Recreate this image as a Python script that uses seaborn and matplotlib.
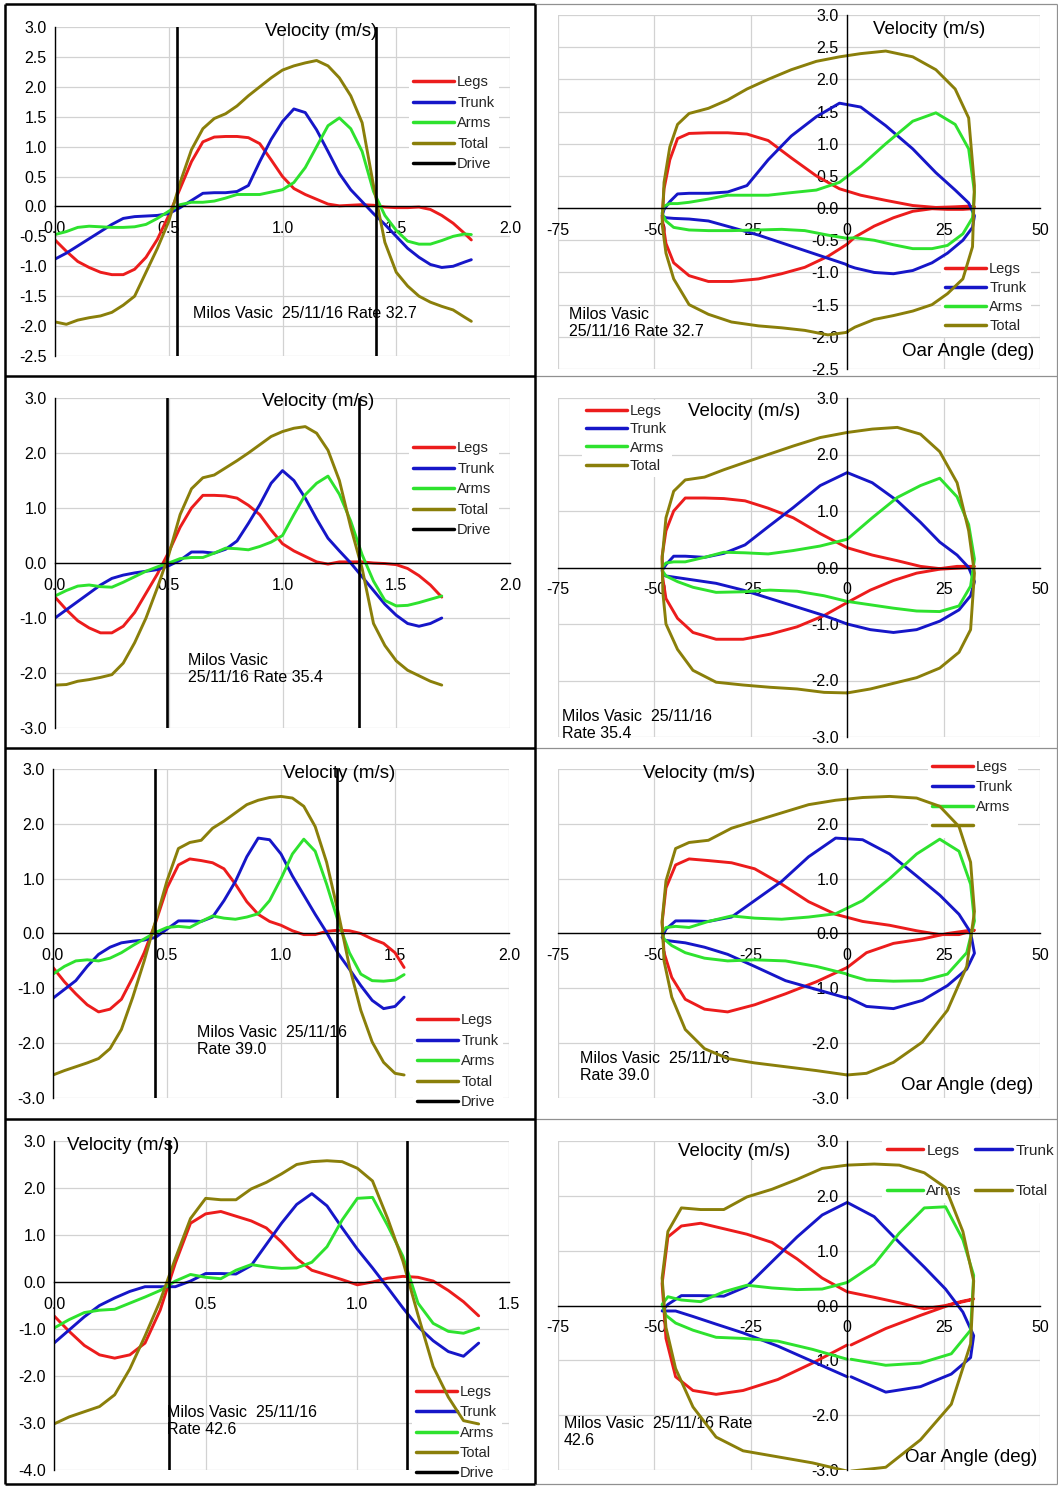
import numpy as np
import pandas as pd
import matplotlib
matplotlib.use("Agg")
import matplotlib.pyplot as plt
import seaborn as sns
from matplotlib.lines import Line2D
from matplotlib.ticker import MultipleLocator, FormatStrFormatter

# ---------------- data ----------------
parts = ["Legs", "Trunk", "Arms", "Total"]

# Row 1 : rate 32.7
t_r1 = [0.00, 0.05, 0.10, 0.15, 0.20, 0.25, 0.30, 0.35, 0.40, 0.45, 0.50, 0.55, 0.60, 0.65, 0.70, 0.75, 0.80, 0.85, 0.90,
        0.95, 1.00, 1.05, 1.10, 1.15, 1.20, 1.25, 1.30, 1.35, 1.40, 1.45, 1.50, 1.55, 1.60, 1.65, 1.70, 1.75, 1.80, 1.83]
angle_r1 = [0, -5, -11, -17, -23, -30, -36, -41, -45, -47, -48, -47.5, -46, -44, -41, -36, -31, -26, -20.5,
            -14.5, -8, -2, 3.5, 10, 17, 23, 28, 31.5, 33, 32.5, 30, 26, 22, 17, 12, 7, 2, 0]
legs_r1 = [-0.56, -0.75, -0.92, -1.02, -1.10, -1.14, -1.14, -1.05, -0.85, -0.55, -0.15, 0.30, 0.75, 1.08, 1.16, 1.17,
           1.17, 1.15, 1.05, 0.78, 0.50, 0.30, 0.20, 0.12, 0.04, 0.01, 0.02, 0.03, 0.02, -0.01, -0.02, -0.02, -0.01,
           -0.05, -0.15, -0.28, -0.45, -0.56]
trunk_r1 = [-0.88, -0.78, -0.66, -0.54, -0.42, -0.30, -0.20, -0.17, -0.16, -0.15, -0.12, -0.02, 0.10, 0.22, 0.23, 0.23,
            0.25, 0.35, 0.75, 1.12, 1.42, 1.63, 1.57, 1.28, 0.92, 0.55, 0.28, 0.08, -0.12, -0.30, -0.50, -0.70, -0.85,
            -0.97, -1.02, -1.00, -0.93, -0.89]
arms_r1 = [-0.47, -0.42, -0.35, -0.33, -0.34, -0.35, -0.35, -0.34, -0.30, -0.20, -0.08, 0.03, 0.07, 0.07, 0.09, 0.14,
           0.20, 0.20, 0.20, 0.24, 0.28, 0.40, 0.65, 1.00, 1.35, 1.48, 1.30, 0.92, 0.25, -0.15, -0.40, -0.58, -0.63,
           -0.63, -0.57, -0.50, -0.46, -0.47]
total_r1 = [-1.93, -1.97, -1.90, -1.86, -1.83, -1.77, -1.65, -1.50, -1.10, -0.70, -0.25, 0.40, 0.95, 1.30, 1.47, 1.55,
            1.68, 1.85, 2.00, 2.15, 2.28, 2.35, 2.40, 2.44, 2.35, 2.15, 1.85, 1.40, 0.35, -0.60, -1.10, -1.33, -1.50,
            -1.60, -1.67, -1.73, -1.85, -1.92]

# Row 2 : rate 35.4
t_r2 = [0.00, 0.05, 0.10, 0.15, 0.20, 0.25, 0.30, 0.35, 0.40, 0.45, 0.50, 0.55, 0.60, 0.65, 0.70, 0.75, 0.80, 0.85,
        0.90, 0.95, 1.00, 1.05, 1.10, 1.15, 1.20, 1.25, 1.30, 1.35, 1.40, 1.45, 1.50, 1.55, 1.60, 1.65, 1.70]
angle_r2 = [0, -6, -13, -20, -27, -34, -40, -44, -47, -47.8, -48, -47, -45, -42, -37, -32, -26.5, -20.5,
            -14, -7, 0, 6.5, 13, 19, 24, 28.5, 31.5, 33, 32, 29, 24, 18, 12, 6, 0]
legs_r2 = [-0.62, -0.85, -1.05, -1.18, -1.27, -1.27, -1.15, -0.90, -0.55, -0.20, 0.20, 0.65, 1.00, 1.23, 1.23, 1.22,
           1.18, 1.05, 0.88, 0.60, 0.35, 0.22, 0.12, 0.02, -0.02, 0.02, 0.02, 0.02, 0.00, -0.01, -0.03, -0.10, -0.23,
           -0.40, -0.62]
trunk_r2 = [-1.00, -0.85, -0.70, -0.55, -0.40, -0.28, -0.22, -0.18, -0.15, -0.12, -0.05, 0.05, 0.20, 0.20, 0.18, 0.25,
            0.40, 0.72, 1.06, 1.45, 1.68, 1.50, 1.18, 0.80, 0.45, 0.22, 0.00, -0.25, -0.50, -0.75, -0.95, -1.10, -1.15,
            -1.10, -1.00]
arms_r2 = [-0.60, -0.50, -0.42, -0.40, -0.43, -0.44, -0.35, -0.25, -0.15, -0.07, 0.00, 0.08, 0.10, 0.10, 0.18, 0.27,
           0.26, 0.24, 0.30, 0.38, 0.50, 0.88, 1.24, 1.45, 1.58, 1.25, 0.76, 0.15, -0.33, -0.68, -0.78, -0.77, -0.72,
           -0.66, -0.60]
total_r2 = [-2.22, -2.21, -2.15, -2.12, -2.08, -2.03, -1.82, -1.45, -1.00, -0.45, 0.15, 0.88, 1.35, 1.55, 1.60, 1.73,
            1.86, 2.00, 2.15, 2.30, 2.39, 2.45, 2.48, 2.36, 2.05, 1.50, 0.65, -0.10, -1.10, -1.50, -1.78, -1.95, -2.05,
            -2.15, -2.22]

# Row 3 : rate 39.0
t_r3 = [0.00, 0.05, 0.10, 0.15, 0.20, 0.25, 0.30, 0.35, 0.40, 0.45, 0.50, 0.55, 0.60, 0.65, 0.70, 0.75, 0.80, 0.85,
        0.90, 0.95, 1.00, 1.05, 1.10, 1.15, 1.20, 1.25, 1.30, 1.35, 1.40, 1.45, 1.50, 1.54]
angle_r3 = [0, -8, -16, -24, -31, -37, -42, -45.5, -47.5, -48, -47, -44.5, -41, -36, -30, -24, -17, -10,
            -3, 4, 11, 18, 24, 29, 32, 33, 31, 26, 19.5, 12, 5, 0]
legs_r3 = [-0.62, -0.88, -1.10, -1.30, -1.43, -1.38, -1.20, -0.80, -0.35, 0.20, 0.83, 1.25, 1.36, 1.33, 1.29, 1.18,
           0.90, 0.58, 0.35, 0.22, 0.15, 0.05, -0.02, -0.02, 0.04, 0.06, 0.05, 0.00, -0.10, -0.18, -0.35, -0.62]
trunk_r3 = [-1.18, -1.02, -0.86, -0.60, -0.38, -0.25, -0.17, -0.14, -0.12, -0.07, 0.08, 0.23, 0.23, 0.22, 0.30, 0.60,
            0.95, 1.40, 1.74, 1.71, 1.45, 1.05, 0.70, 0.35, 0.02, -0.36, -0.65, -0.95, -1.22, -1.37, -1.33, -1.16]
arms_r3 = [-0.74, -0.60, -0.50, -0.48, -0.50, -0.45, -0.35, -0.22, -0.10, 0.02, 0.11, 0.13, 0.11, 0.22, 0.32, 0.28,
           0.26, 0.30, 0.36, 0.60, 1.00, 1.45, 1.72, 1.50, 0.90, 0.23, -0.35, -0.74, -0.86, -0.87, -0.85, -0.75]
total_r3 = [-2.58, -2.50, -2.43, -2.36, -2.28, -2.10, -1.75, -1.16, -0.50, 0.23, 0.96, 1.55, 1.66, 1.70, 1.92, 2.05,
            2.20, 2.35, 2.43, 2.48, 2.50, 2.47, 2.32, 1.95, 1.30, 0.40, -0.60, -1.40, -1.98, -2.35, -2.55, -2.58]

# Row 4 : rate 42.6
t_r4 = [0.00, 0.05, 0.10, 0.15, 0.20, 0.25, 0.30, 0.35, 0.40, 0.45, 0.50, 0.55, 0.60, 0.65, 0.70, 0.75, 0.80, 0.85,
        0.90, 0.95, 1.00, 1.05, 1.10, 1.15, 1.20, 1.25, 1.30, 1.35, 1.40]
angle_r4 = [0, -9, -18, -27, -34, -40, -44.5, -47, -48, -46.5, -43, -38, -32, -26, -19.5, -13, -6.5, 0,
            7, 13.5, 20, 25.5, 30, 32.8, 32, 27, 19, 10, 1]
legs_r4 = [-0.72, -1.05, -1.35, -1.55, -1.62, -1.55, -1.30, -0.60, 0.40, 1.25, 1.45, 1.50, 1.40, 1.30, 1.15, 0.85,
           0.50, 0.25, 0.15, 0.05, -0.06, 0.00, 0.08, 0.12, 0.10, 0.02, -0.18, -0.42, -0.72]
trunk_r4 = [-1.30, -1.02, -0.74, -0.50, -0.34, -0.20, -0.10, -0.10, -0.10, 0.02, 0.18, 0.18, 0.17, 0.35, 0.80, 1.25,
            1.65, 1.88, 1.62, 1.15, 0.70, 0.30, -0.12, -0.55, -0.95, -1.25, -1.48, -1.58, -1.30]
arms_r4 = [-0.98, -0.80, -0.65, -0.60, -0.58, -0.45, -0.32, -0.18, 0.02, 0.16, 0.10, 0.07, 0.25, 0.37, 0.32, 0.29,
           0.30, 0.42, 0.75, 1.32, 1.78, 1.80, 1.20, 0.55, -0.45, -0.88, -1.05, -1.09, -0.98]
total_r4 = [-3.02, -2.87, -2.76, -2.65, -2.40, -1.85, -1.15, -0.40, 0.50, 1.35, 1.78, 1.75, 1.75, 1.98, 2.12, 2.30,
            2.50, 2.56, 2.58, 2.56, 2.42, 2.15, 1.35, 0.45, -0.70, -1.80, -2.45, -2.95, -3.02]

drive_start = [0.536, 0.492, 0.447, 0.379]
drive_end = [1.411, 1.336, 1.246, 1.164]
rates = ["32.7", "35.4", "39.0", "42.6"]

# ---------------- style ----------------
sns.set_style("white")
plt.rcParams["font.family"] = ["Liberation Sans", "DejaVu Sans"]

PALETTE = {"Legs": "#ec1c1c", "Trunk": "#1616c8", "Arms": "#2ee22e", "Total": "#8a7f0a"}
GRID = "#d2d2d2"
TICK_FS = 11.5

W, H = 1058, 1486
fig = plt.figure(figsize=(W / 100, H / 100), dpi=100)
fig.patch.set_facecolor("white")


def rect(x0, y0, x1, y1):
    return [x0 / W, 1 - y1 / H, (x1 - x0) / W, (y1 - y0) / H]


def fxy(x, y):
    return (x / W, 1 - y / H)


rows = [
    dict(t=t_r1, a=angle_r1, v=[legs_r1, trunk_r1, arms_r1, total_r1],
         L=dict(box=(55, 27, 510, 356), xlim=(0, 2), ylim=(-2.5, 3), ystep=0.5,
                title=(321, 31, "center"), note=(193, 314, "Milos Vasic  25/11/16 Rate 32.7"),
                leg=(409, 71), ls=0.44),
         R=dict(box=(558, 15, 1040, 369), ylim=(-2.5, 3), ystep=0.5,
                title=(873, 30, "left"), note=(569, 323, "Milos Vasic\n25/11/16 Rate 32.7"),
                oar=(1034, 351), leg=(941, 258), ls=0.33, ncol=1, labels=parts)),
    dict(t=t_r2, a=angle_r2, v=[legs_r2, trunk_r2, arms_r2, total_r2],
         L=dict(box=(55, 398, 510, 728), xlim=(0, 2), ylim=(-3, 3), ystep=1.0,
                title=(318, 402, "center"), note=(188, 669, "Milos Vasic\n25/11/16 Rate 35.4"),
                leg=(409, 437), ls=0.44),
         R=dict(box=(558, 398, 1040, 737), ylim=(-3, 3), ystep=1.0,
                title=(688, 412, "left"), note=(562, 725, "Milos Vasic  25/11/16\nRate 35.4"),
                oar=None, leg=(582, 400), ls=0.28, ncol=1, labels=parts)),
    dict(t=t_r3, a=angle_r3, v=[legs_r3, trunk_r3, arms_r3, total_r3],
         L=dict(box=(53, 769, 509, 1098), xlim=(0, 2), ylim=(-3, 3), ystep=1.0,
                title=(283, 774, "left"), note=(197, 1041, "Milos Vasic  25/11/16\nRate 39.0"),
                leg=(413, 1009), ls=0.44),
         R=dict(box=(558, 769, 1040, 1098), ylim=(-3, 3), ystep=1.0,
                title=(643, 773, "left"), note=(580, 1067, "Milos Vasic  25/11/16\nRate 39.0"),
                oar=(1033, 1085), leg=(928, 756), ls=0.39, ncol=1, labels=["Legs", "Trunk", "Arms", ""])),
    dict(t=t_r4, a=angle_r4, v=[legs_r4, trunk_r4, arms_r4, total_r4],
         L=dict(box=(54, 1141, 509, 1470), xlim=(0, 1.5), ylim=(-4, 3), ystep=1.0,
                title=(67, 1145, "left"), note=(167, 1421, "Milos Vasic  25/11/16\nRate 42.6"),
                leg=(412, 1381), ls=0.42),
         R=dict(box=(558, 1141, 1040, 1470), ylim=(-3, 3), ystep=1.0,
                title=(678, 1151, "left"), note=(564, 1432, "Milos Vasic  25/11/16 Rate\n42.6"),
                oar=(1037, 1457), leg=(882, 1139), ls=1.76, ncol=2, labels=parts)),
]


def add_text(ax, x, y, s, ha="left", size=13.5, ls=1.2):
    fx, fy = fxy(x, y)
    ax.text(fx, fy, s, transform=fig.transFigure, ha=ha, va="center", fontsize=size,
            linespacing=ls, color="black", zorder=1)


def style_common(ax):
    ax.set_facecolor("white")
    ax.set_axisbelow(True)
    ax.grid(True, which="major", color=GRID, lw=0.9)
    ax.grid(False, which="minor")
    ax.set_xlabel("")
    ax.set_ylabel("")
    for s in ["top", "right"]:
        ax.spines[s].set_visible(False)
    for s in ["left", "bottom"]:
        ax.spines[s].set_color("black")
        ax.spines[s].set_linewidth(1.0)
    ax.spines["bottom"].set_position(("data", 0))
    ax.tick_params(axis="x", which="major", direction="inout", length=7, width=1, pad=7,
                   labelsize=TICK_FS, colors="black")
    ax.tick_params(axis="x", which="minor", direction="out", length=3.5, width=1, colors="black")
    ax.tick_params(axis="y", which="major", direction="out", length=4, width=1, pad=2,
                   labelsize=TICK_FS, colors="black")


def add_legend(ax, labels, colors, anchor, ls, ncol=1, size=10.5):
    handles = [Line2D([0], [0], color=c, lw=2.5) for c in colors]
    if ncol == 2:
        order = [0, 2, 1, 3]
        handles = [handles[i] for i in order]
        labels = [labels[i] for i in order]
    leg = ax.legend(handles, labels, loc="upper left", bbox_to_anchor=fxy(*anchor),
                    bbox_transform=fig.transFigure, frameon=True, facecolor="white",
                    edgecolor="none", framealpha=1, fancybox=False, borderpad=0.3,
                    borderaxespad=0, handlelength=2.8 if ncol == 1 else 2.4,
                    handletextpad=0.2, labelspacing=ls, ncol=ncol, columnspacing=0.9,
                    fontsize=size)
    leg.set_zorder(1)
    return leg


for i, row in enumerate(rows):
    n = len(row["t"])
    df = pd.DataFrame({
        "t": np.tile(row["t"], 4),
        "angle": np.tile(row["a"], 4),
        "vel": np.concatenate([np.asarray(v, float) for v in row["v"]]),
        "part": np.repeat(parts, n),
    })

    # ---- left: velocity vs time ----
    L = row["L"]
    axL = fig.add_axes(rect(*L["box"]))
    sns.lineplot(data=df, x="t", y="vel", hue="part", hue_order=parts, palette=PALETTE,
                 sort=False, estimator=None, lw=2.1, legend=False, ax=axL, zorder=2,
                 solid_joinstyle="round", solid_capstyle="round")
    axL.axvline(drive_start[i], color="black", lw=1.9, zorder=3)
    axL.axvline(drive_end[i], color="black", lw=1.9, zorder=3)
    axL.set_xlim(*L["xlim"])
    axL.set_ylim(*L["ylim"])
    axL.xaxis.set_major_locator(MultipleLocator(0.5))
    axL.xaxis.set_minor_locator(MultipleLocator(0.1))
    axL.yaxis.set_major_locator(MultipleLocator(L["ystep"]))
    axL.xaxis.set_major_formatter(FormatStrFormatter("%.1f"))
    axL.yaxis.set_major_formatter(FormatStrFormatter("%.1f"))
    style_common(axL)
    add_text(axL, L["title"][0], L["title"][1], "Velocity (m/s)", ha=L["title"][2])
    add_text(axL, L["note"][0], L["note"][1], L["note"][2], size=11.5)
    add_legend(axL, parts + ["Drive"], [PALETTE[p] for p in parts] + ["black"], L["leg"], L["ls"])

    # ---- right: velocity vs oar angle ----
    R = row["R"]
    axR = fig.add_axes(rect(*R["box"]))
    sns.lineplot(data=df, x="angle", y="vel", hue="part", hue_order=parts, palette=PALETTE,
                 sort=False, estimator=None, lw=2.1, legend=False, ax=axR, zorder=2,
                 solid_joinstyle="round", solid_capstyle="round")
    axR.set_xlim(-75, 50)
    axR.set_ylim(*R["ylim"])
    axR.xaxis.set_major_locator(MultipleLocator(25))
    axR.xaxis.set_minor_locator(MultipleLocator(5))
    axR.yaxis.set_major_locator(MultipleLocator(R["ystep"]))
    axR.xaxis.set_major_formatter(FormatStrFormatter("%d"))
    axR.yaxis.set_major_formatter(FormatStrFormatter("%.1f"))
    style_common(axR)
    axR.spines["left"].set_position(("data", 0))
    add_text(axR, R["title"][0], R["title"][1], "Velocity (m/s)", ha=R["title"][2])
    add_text(axR, R["note"][0], R["note"][1], R["note"][2], size=11.5)
    if R["oar"] is not None:
        add_text(axR, R["oar"][0], R["oar"][1], "Oar Angle (deg)", ha="right")
    add_legend(axR, R["labels"], [PALETTE[p] for p in parts], R["leg"], R["ls"], ncol=R["ncol"],
               size=11 if R["ncol"] == 2 else 10.5)

# ---------------- cell borders ----------------
def fig_line(x0, y0, x1, y1, color, lw):
    fig.add_artist(Line2D([x0 / W, x1 / W], [1 - y0 / H, 1 - y1 / H], transform=fig.transFigure,
                          color=color, lw=lw, solid_capstyle="butt"))


for yb in [4, 376, 748, 1119, 1484]:
    fig_line(5, yb, 535, yb, "black", 1.8)
    fig_line(535, yb, 1057, yb, "#909090", 0.9)
fig_line(5, 4, 5, 1484, "black", 1.8)
fig_line(535, 4, 535, 1484, "black", 1.8)
fig_line(1056.5, 4, 1056.5, 1484, "#909090", 0.9)

fig.savefig("out.png", dpi=100, facecolor="white")
